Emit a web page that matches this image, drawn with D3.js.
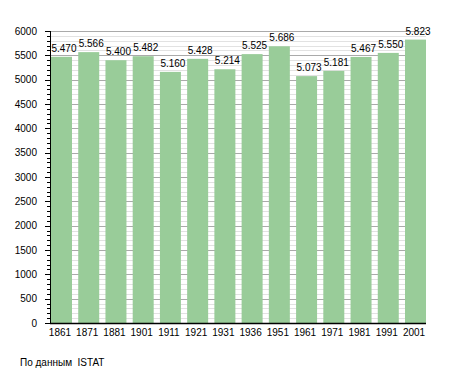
<!DOCTYPE html>
<html><head><meta charset="utf-8">
<script src="https://cdn.jsdelivr.net/npm/d3@7"></script>
<style>body{margin:0;background:#fff;}svg{display:block;font-family:"Liberation Sans",Arial,sans-serif;}</style>
</head><body>
<svg id="c" width="455" height="373"></svg>
<script>
const years = ["1861","1871","1881","1901","1911","1921","1931","1936","1951","1961","1971","1981","1991","2001"];
const population = [5470,5566,5400,5482,5160,5428,5214,5525,5686,5073,5181,5467,5550,5823];
const yTicks = [0,500,1000,1500,2000,2500,3000,3500,4000,4500,5000,5500,6000];
const sourceText = "По данным  ISTAT";

(function(){
const svg = d3.select("#c");
const pL = 50, pR = 426, pT = 31, pB = 323;
const x = d3.scaleBand().domain(years).range([pL+1, pR]).paddingInner(0.229).paddingOuter(0);
const y = d3.scaleLinear().domain([0,6000]).range([pB, pT]);
const fmt = v => d3.format(",")(v).replace(/,/g, ".");

const minor = d3.range(100, 6000, 100).filter(v => v % 500 !== 0);
svg.append("g").selectAll("line").data(minor).join("line")
  .attr("x1", pL).attr("x2", pR)
  .attr("y1", d => Math.round(y(d))+0.5).attr("y2", d => Math.round(y(d))+0.5)
  .attr("stroke", "#e2e2e2").attr("stroke-width", 1);
svg.append("g").selectAll("line").data(yTicks.filter(v => v > 0)).join("line")
  .attr("x1", pL).attr("x2", pR)
  .attr("y1", d => Math.round(y(d))+0.5).attr("y2", d => Math.round(y(d))+0.5)
  .attr("stroke", "#aaaaaa").attr("stroke-width", 1);

svg.append("g").selectAll("rect").data(years).join("rect")
  .attr("x", d => x(d)).attr("width", x.bandwidth())
  .attr("y", (d,i) => y(population[i])).attr("height", (d,i) => pB - y(population[i]))
  .attr("fill", "#99cc99");

svg.append("g").selectAll("text").data(years).join("text")
  .attr("x", d => x(d) + x.bandwidth()/2 + 2.5)
  .attr("y", (d,i) => y(population[i]) - 5)
  .attr("text-anchor", "middle").attr("font-size", 10).attr("fill", "#000")
  .text((d,i) => fmt(population[i]));

svg.append("line").attr("x1", pL+0.5).attr("x2", pL+0.5).attr("y1", pT).attr("y2", pB+1).attr("stroke", "#000");
svg.append("g").selectAll("line").data(d3.range(0, 6001, 100)).join("line")
  .attr("x1", d => d % 500 === 0 ? pL-5 : pL-3).attr("x2", pL)
  .attr("y1", d => Math.round(y(d))+0.5).attr("y2", d => Math.round(y(d))+0.5)
  .attr("stroke", "#000");
svg.append("g").selectAll("text").data(yTicks).join("text")
  .attr("x", 37).attr("y", d => y(d)).attr("dy", "0.35em")
  .attr("text-anchor", "end").attr("font-size", 10).text(d => d);

svg.append("line").attr("x1", pL).attr("x2", pR).attr("y1", pB+0.5).attr("y2", pB+0.5).attr("stroke", "#000").attr("stroke-width", 1.5);
svg.append("g").selectAll("text").data(years).join("text")
  .attr("x", d => x(d) + x.bandwidth()/2 - 1.5).attr("y", 335.5)
  .attr("text-anchor", "middle").attr("font-size", 10).text(d => d);

svg.append("text").attr("x", 20).attr("y", 365.5).attr("font-size", 10).style("white-space","pre").text(sourceText);
})();
</script>
</body></html>
